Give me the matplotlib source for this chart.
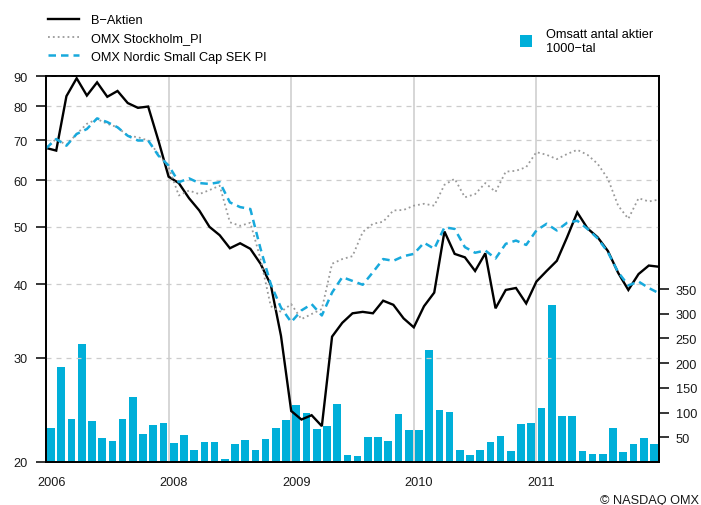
import numpy as np
import matplotlib
matplotlib.use("Agg")
import matplotlib.pyplot as plt
from matplotlib.ticker import FixedLocator, FixedFormatter, NullLocator

plt.rcParams['font.family'] = ['Liberation Sans', 'DejaVu Sans']

# ---- data -------------------------------------------------------------
year_labels = ["2006", "2008", "2009", "2010", "2011"]
year_tick_month = [0, 12, 24, 36, 48]          # month index where each label's year starts
month_index = np.arange(61)                     # line points (monthly)
bar_month = np.arange(60)                       # bars (monthly)

b_aktien = [68.0, 67.3, 83.2, 89.2, 83.4, 87.8, 83.0, 84.9, 81.0, 79.5,
            79.9, 70.0, 60.8, 59.3, 55.9, 53.3, 50.0, 48.4, 46.0, 46.9,
            45.9, 43.3, 39.9, 32.7, 24.4, 23.6, 24.0, 23.0, 32.6, 34.4,
            35.7, 35.9, 35.7, 37.5, 36.9, 35.0, 33.8, 36.7, 38.7, 49.1,
            45.0, 44.4, 42.1, 45.1, 36.4, 39.1, 39.4, 37.1, 40.4, 42.1,
            43.8, 48.0, 52.9, 49.7, 48.0, 45.5, 41.8, 39.1, 41.6, 43.0,
            42.8]

omx_stockholm = [68.2, 70.4, 68.8, 71.8, 74.7, 76.1, 74.7, 73.7, 71.3, 70.9,
                 70.0, 66.4, 63.1, 56.5, 57.6, 56.8, 57.7, 58.7, 50.9, 50.2,
                 50.8, 44.1, 36.7, 35.9, 37.0, 34.9, 35.6, 36.3, 43.3, 44.1,
                 44.6, 49.0, 50.6, 51.0, 53.3, 53.4, 54.3, 54.7, 54.3, 58.9,
                 60.3, 56.1, 56.8, 59.3, 57.3, 62.0, 62.2, 63.1, 66.9, 66.2,
                 65.1, 66.4, 67.5, 66.2, 63.9, 60.3, 54.3, 51.6, 55.9, 55.2,
                 55.6]

small_cap = [67.9, 70.4, 68.6, 71.8, 73.2, 76.3, 75.2, 73.7, 71.3, 70.0,
             70.0, 66.0, 63.5, 59.5, 60.4, 59.3, 59.1, 59.5, 55.0, 54.0,
             53.6, 45.9, 40.0, 36.5, 34.5, 36.1, 37.0, 35.4, 38.7, 41.1,
             40.5, 39.9, 41.9, 44.1, 43.8, 44.6, 45.0, 47.0, 45.9, 49.9,
             49.6, 46.2, 45.2, 45.6, 44.2, 46.8, 47.4, 46.6, 49.3, 50.6,
             49.3, 50.8, 51.2, 49.6, 47.8, 45.3, 41.9, 39.8, 40.4, 39.4,
             38.6]

volume = [69, 192, 86, 239, 83, 49, 43, 86, 132, 57,
          75, 79, 38, 55, 24, 40, 40, 6, 36, 45,
          24, 47, 69, 85, 115, 99, 67, 73, 117, 14,
          12, 51, 51, 43, 97, 65, 65, 227, 105, 101,
          24, 14, 24, 40, 53, 22, 77, 79, 109, 318,
          93, 93, 22, 16, 16, 69, 20, 36, 49, 36]

left_ticks = [20, 30, 40, 50, 60, 70, 80, 90]
right_ticks = [50, 100, 150, 200, 250, 300, 350]

names = ["B\u2212Aktien", "OMX Stockholm_PI", "OMX Nordic Small Cap SEK PI"]
bar_name = "Omsatt antal aktier\n1000\u2212tal"

# ---- style ------------------------------------------------------------
W, H = 701, 506
bar_color = "#00afd9"
blue = "#18a9dc"
grid_color = "#cccccc"
fs = 9.2
txt = "#1a1a1a"

fig = plt.figure(figsize=(W / 100, H / 100), dpi=100)
ax = fig.add_axes([46 / W, 43 / H, (659 - 46) / W, (463 - 77) / H])
ax2 = ax.twinx()
ax.set_zorder(ax2.get_zorder() + 1)
ax.patch.set_visible(False)

# bars (right axis)
bars = ax2.bar(bar_month + 0.5, volume, width=0.75, color=bar_color,
               linewidth=0, label=bar_name)
ax2.set_ylim(0, 781)
ax2.yaxis.set_major_locator(FixedLocator(right_ticks))
ax2.tick_params(axis='y', direction='out', length=7, width=1.1,
                pad=5, labelsize=fs, colors='black', labelcolor=txt)

# lines (left, log axis)
l1, = ax.plot(month_index, b_aktien, color='black', lw=1.7,
              solid_joinstyle='miter', label=names[0])
l2, = ax.plot(month_index, omx_stockholm, color='#9a9a9a', lw=1.3,
              ls=(0, (1, 1.7)), label=names[1])
l3, = ax.plot(month_index, small_cap, color=blue, lw=1.8,
              ls=(0, (3, 2)), label=names[2])

ax.set_yscale('log')
ax.set_ylim(20, 90)
ax.yaxis.set_major_locator(FixedLocator(left_ticks))
ax.yaxis.set_major_formatter(FixedFormatter([str(t) for t in left_ticks]))
ax.yaxis.set_minor_locator(NullLocator())
ax.tick_params(axis='y', direction='out', length=7, width=1.1,
               pad=6, labelsize=fs, labelcolor=txt)
ax.grid(axis='y', which='major', color=grid_color, lw=0.9, ls=(0, (4, 4)))

ax.set_xlim(0, 60)
ax.set_xticks([m + 0.5 for m in year_tick_month])
ax.set_xticklabels(year_labels)
ax.set_xticks(year_tick_month[1:], minor=True)
ax.tick_params(axis='x', which='both', length=0, pad=10, labelsize=fs,
               labelcolor=txt)
ax.grid(axis='x', which='minor', color=grid_color, lw=1.1, ls='-')

for a in (ax, ax2):
    for s in a.spines.values():
        s.set_linewidth(1.3)
        s.set_color('black')

# legends
fig.legend(handles=[l1, l2, l3], loc='upper left',
           bbox_to_anchor=(48 / W, 1 - 15 / H), frameon=False, fontsize=fs,
           handlelength=2.4, handletextpad=1.0, labelspacing=0.5,
           borderpad=0, borderaxespad=0)
fig.legend(handles=[bars], labels=[bar_name], loc='upper left',
           bbox_to_anchor=(520 / W, 1 - 29 / H), frameon=False, fontsize=fs,
           handlelength=0.95, handleheight=0.95, handletextpad=1.1,
           borderpad=0, borderaxespad=0)

fig.text(699 / W, 1 - 501 / H, "\u00a9 NASDAQ OMX", ha='right', va='center',
         fontsize=fs, color=txt)

fig.savefig("out.png", dpi=100)
